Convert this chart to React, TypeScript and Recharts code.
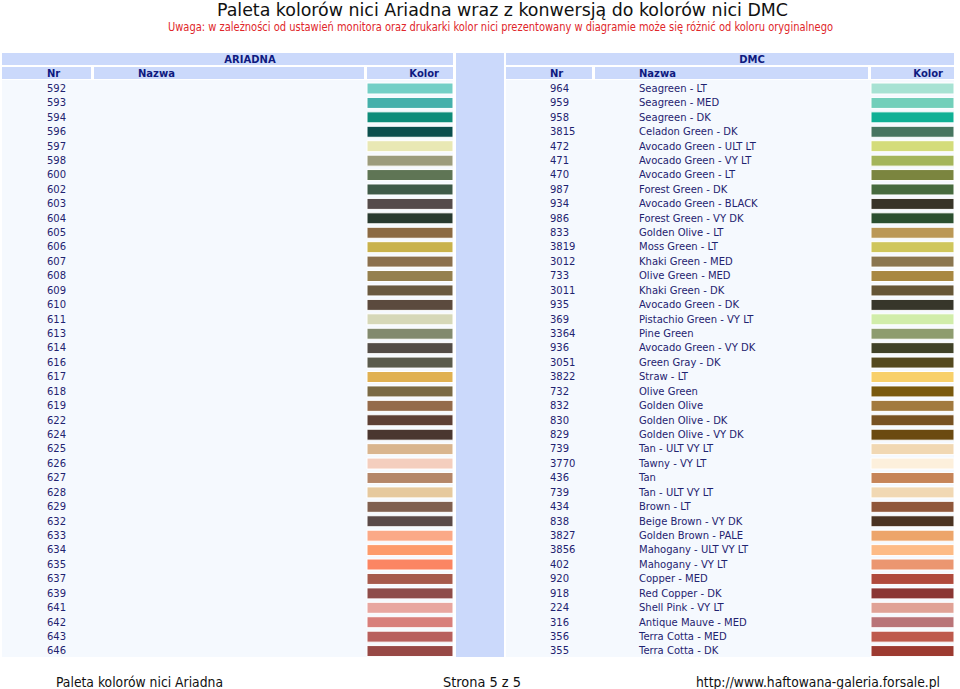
import React from 'react';
import { BarChart, Bar, XAxis, YAxis, Cell } from 'recharts';

const ariadnaNr = ['592','593','594','596','597','598','600','602','603','604','605','606','607','608','609','610','611','613','614','616','617','618','619','622','624','625','626','627','628','629','632','633','634','635','637','639','641','642','643','646'];
const ariadnaColors = ['#74cfc6','#45b0ab','#0e8c7a','#0b4f4e','#e9e8b4','#9c9c7c','#5f7555','#3e5a48','#554b4a','#283a30','#8b6a43','#c9b24c','#8a704e','#95804f','#6a5a40','#5b4a3e','#d6d8b8','#828a6e','#534d47','#5a5b4d','#e0b152','#7a6a45','#946b4b','#5d4035','#4a3730','#d9b58e','#f4cebe','#b48669','#e6c99e','#806050','#5a4a48','#fba987','#fd9b6b','#fb8563','#a65a4c','#8e4c4a','#e8a6a0','#d87f7b','#b8605d','#974845'];
const dmcNr = ['964','959','958','3815','472','471','470','987','934','986','833','3819','3012','733','3011','935','369','3364','936','3051','3822','732','832','830','829','739','3770','436','739','434','838','3827','3856','402','920','918','224','316','356','355'];
const dmcNames = ['Seagreen - LT','Seagreen - MED','Seagreen - DK','Celadon Green - DK','Avocado Green - ULT LT','Avocado Green - VY LT','Avocado Green - LT','Forest Green - DK','Avocado Green - BLACK','Forest Green - VY DK','Golden Olive - LT','Moss Green - LT','Khaki Green - MED','Olive Green - MED','Khaki Green - DK','Avocado Green - DK','Pistachio Green - VY LT','Pine Green','Avocado Green - VY DK','Green Gray - DK','Straw - LT','Olive Green','Golden Olive','Golden Olive - DK','Golden Olive - VY DK','Tan - ULT VY LT','Tawny - VY LT','Tan','Tan - ULT VY LT','Brown - LT','Beige Brown - VY DK','Golden Brown - PALE','Mahogany - ULT VY LT','Mahogany - VY LT','Copper - MED','Red Copper - DK','Shell Pink - VY LT','Antique Mauve - MED','Terra Cotta - MED','Terra Cotta - DK'];
const dmcColors = ['#a7e2d3','#72cfba','#10b095','#477560','#d4dc7a','#a4b55a','#7b853f','#476b3f','#393427','#2b4f30','#bb9856','#cfc65c','#8a7650','#a98841','#665636','#37362a','#d1edaa','#8e9c6e','#404228','#54491f','#f8d06a','#7a5a0e','#a27a3e','#775222','#6b4a10','#f1d8b3','#fdf0dc','#c68458','#f1d8b3','#90573a','#4a3322','#eda56a','#fdbb86','#eb9670','#b04a3c','#8b3633','#e0a296','#b97478','#be5a4c','#9c3a30'];

const titleText = 'Paleta kolorów nici Ariadna wraz z konwersją do kolorów nici DMC';
const noteText = 'Uwaga: w zależności od ustawień monitora oraz drukarki kolor nici prezentowany w diagramie może się różnić od koloru oryginalnego';
const footerLeft = 'Paleta kolorów nici Ariadna';
const footerMid = 'Strona 5 z 5';
const footerRight = 'http://www.haftowana-galeria.forsale.pl';

const leftRows = ariadnaNr.map((nr, i) => ({ nr, color: ariadnaColors[i] }));
const rightRows = dmcNr.map((nr, i) => ({ nr, name: dmcNames[i], color: dmcColors[i] }));

const HEAD = '#cbd9fb';
const BODY = '#f5f9fe';
const TEXT = '#1f2370';
const HTEXT = '#0f1a80';
const FONT = '"DejaVu Sans", Verdana, sans-serif';
const NARROW = '"Liberation Sans Narrow", "DejaVu Sans Condensed", "Liberation Sans", sans-serif';

const box = (left: number, top: number, width: number, height: number, bg: string): React.CSSProperties => ({
  position: 'absolute', left, top, width, height, background: bg,
});

const LeftTick = (props: any) => {
  const { y, payload } = props;
  return (
    <text x={45} y={y} dy="0.36em" fontSize={10} fontFamily={FONT} fill={TEXT}>{payload.value}</text>
  );
};

const RightTick = (props: any) => {
  const { y, payload, index } = props;
  return (
    <g>
      <text x={44} y={y} dy="0.36em" fontSize={10} fontFamily={FONT} fill={TEXT}>{payload.value}</text>
      <text x={133} y={y} dy="0.36em" fontSize={10} fontFamily={FONT} fill={TEXT}>{dmcNames[index]}</text>
    </g>
  );
};

const one = () => 1;

export default function App() {
  return (
    <div style={{ position: 'absolute', left: 0, top: 0, width: 960, height: 689, background: '#fff', overflow: 'hidden' }}>
      <svg width={960} height={689} style={{ position: 'absolute', left: 0, top: 0 }}>
        <text x={217} y={16} fontSize={17} fontFamily={NARROW} fill="#111" textLength={571} lengthAdjust="spacingAndGlyphs">{titleText}</text>
        <text x={168} y={31} fontSize={11.5} fontFamily={NARROW} fill="#e0262a" textLength={665} lengthAdjust="spacingAndGlyphs">{noteText}</text>
        <text x={56} y={687} fontSize={14} fontFamily={NARROW} fill="#111" textLength={167} lengthAdjust="spacingAndGlyphs">{footerLeft}</text>
        <text x={443} y={687} fontSize={14} fontFamily={NARROW} fill="#111" textLength={78} lengthAdjust="spacingAndGlyphs">{footerMid}</text>
        <text x={696} y={687} fontSize={14} fontFamily={NARROW} fill="#111" textLength={244} lengthAdjust="spacingAndGlyphs">{footerRight}</text>
      </svg>

      <div style={box(2, 53, 451, 12, HEAD)} />
      <div style={box(2, 67, 89, 12, HEAD)} />
      <div style={box(94, 67, 270, 12, HEAD)} />
      <div style={box(367, 67, 86, 12, HEAD)} />
      <div style={box(456, 53, 48, 604, HEAD)} />
      <div style={box(506, 53, 448, 12, HEAD)} />
      <div style={box(506, 67, 86, 12, HEAD)} />
      <div style={box(595, 67, 273, 12, HEAD)} />
      <div style={box(871, 67, 83, 12, HEAD)} />
      <div style={box(2, 80, 451, 577, BODY)} />
      <div style={box(506, 80, 448, 577, BODY)} />

      <svg width={960} height={90} style={{ position: 'absolute', left: 0, top: 0 }}>
        <g fontFamily={FONT} fontSize={10} fontWeight="bold" fill={HTEXT}>
          <text x={250} y={62.5} textAnchor="middle">ARIADNA</text>
          <text x={47} y={76.5}>Nr</text>
          <text x={138} y={76.5}>Nazwa</text>
          <text x={439} y={76.5} textAnchor="end">Kolor</text>
          <text x={752} y={62.5} textAnchor="middle">DMC</text>
          <text x={550} y={76.5}>Nr</text>
          <text x={639} y={76.5}>Nazwa</text>
          <text x={943} y={76.5} textAnchor="end">Kolor</text>
        </g>
      </svg>

      <div style={{ position: 'absolute', left: 2, top: 81 }}>
        <BarChart width={451} height={577} data={leftRows} layout="vertical" margin={{ top: 0, right: 0, bottom: 0, left: 0 }} barCategoryGap={0}>
          <XAxis type="number" domain={[0, 1]} hide />
          <YAxis type="category" dataKey="nr" width={365} axisLine={false} tickLine={false} interval={0} tick={LeftTick} />
          <Bar dataKey={one} barSize={11} isAnimationActive={false} stroke="#ffffff" strokeWidth={1}>
            {leftRows.map((r, i) => <Cell key={i} fill={r.color} />)}
          </Bar>
        </BarChart>
      </div>

      <div style={{ position: 'absolute', left: 506, top: 81 }}>
        <BarChart width={448} height={577} data={rightRows} layout="vertical" margin={{ top: 0, right: 0, bottom: 0, left: 0 }} barCategoryGap={0}>
          <XAxis type="number" domain={[0, 1]} hide />
          <YAxis type="category" dataKey="nr" width={365} axisLine={false} tickLine={false} interval={0} tick={RightTick} />
          <Bar dataKey={one} barSize={11} isAnimationActive={false} stroke="#ffffff" strokeWidth={1}>
            {rightRows.map((r, i) => <Cell key={i} fill={r.color} />)}
          </Bar>
        </BarChart>
      </div>
    </div>
  );
}
